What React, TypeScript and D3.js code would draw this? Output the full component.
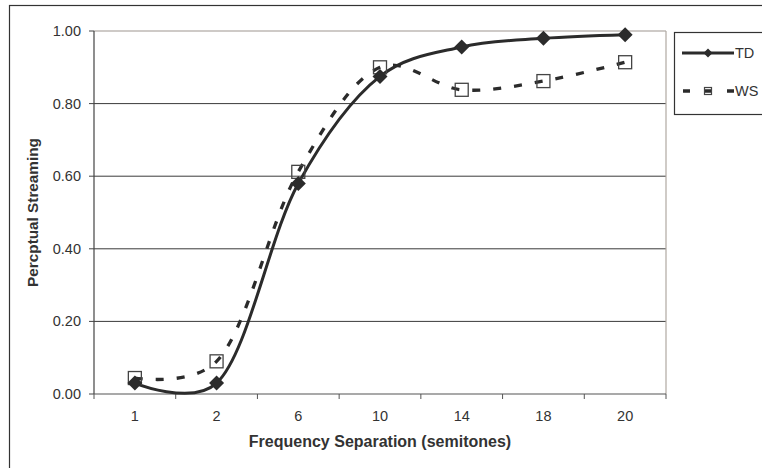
import React from "react";
import * as d3 from "d3";

const categories = ["1", "2", "6", "10", "14", "18", "20"];
const tdValues = [0.03, 0.03, 0.58, 0.875, 0.956, 0.98, 0.99];
const wsValues = [0.044, 0.09, 0.612, 0.9, 0.838, 0.862, 0.914];
const yTicks = [0, 0.2, 0.4, 0.6, 0.8, 1.0];

const W = 762;
const H = 468;
const M = { left: 94, right: 666, top: 31, bottom: 394 };
const FONT = "'Liberation Sans', Arial, sans-serif";
const INK = "#2b2b2b";

export default function App() {
  const x = d3.scaleBand<string>().domain(categories).range([M.left, M.right]).padding(0);
  const y = d3.scaleLinear().domain([0, 1]).range([M.bottom, M.top]);
  const cx = (c: string) => (x(c) as number) + x.bandwidth() / 2;

  const line = d3
    .line<number>()
    .x((_, i) => cx(categories[i]))
    .y((d) => y(d))
    .curve(d3.curveCatmullRom.alpha(0.25));

  const boundaries = categories.map((c) => x(c) as number).concat([M.right]);
  const diamond = (px: number, py: number, r: number) =>
    `M${px},${py - r}L${px + r},${py}L${px},${py + r}L${px - r},${py}Z`;

  return (
    <svg
      width={W}
      height={H}
      style={{ position: "absolute", left: 0, top: 0, background: "#fff" }}
      fontFamily={FONT}
    >
      {/* outer frame */}
      <rect x={9.5} y={5.5} width={800} height={600} fill="none" stroke="#333" strokeWidth={1.2} />

      {/* gridlines */}
      {yTicks.filter((t) => t > 0 && t < 1).map((t) => (
        <line key={t} x1={M.left} x2={M.right} y1={y(t)} y2={y(t)} stroke="#3a3a3a" strokeWidth={1} />
      ))}
      {/* plot border top/right */}
      <line x1={M.left} x2={M.right} y1={y(1)} y2={y(1)} stroke="#9e9690" strokeWidth={1.2} />
      <line x1={M.right} x2={M.right} y1={M.top} y2={M.bottom} stroke="#b0a8a2" strokeWidth={1.2} />

      {/* y axis */}
      <line x1={M.left} x2={M.left} y1={M.top} y2={M.bottom} stroke="#444" strokeWidth={1.2} />
      {yTicks.map((t) => (
        <g key={t}>
          <line x1={M.left - 5} x2={M.left} y1={y(t)} y2={y(t)} stroke="#444" strokeWidth={1} />
          <text x={81} y={y(t) + 5} textAnchor="end" fontSize={14.5} fill="#333">
            {t.toFixed(2)}
          </text>
        </g>
      ))}

      {/* x axis */}
      <line x1={M.left} x2={M.right} y1={M.bottom} y2={M.bottom} stroke="#555" strokeWidth={1.2} />
      {boundaries.map((b, i) => (
        <line key={i} x1={b} x2={b} y1={M.bottom} y2={M.bottom + 5} stroke="#555" strokeWidth={1} />
      ))}
      {categories.map((c) => (
        <text key={c} x={cx(c)} y={421} textAnchor="middle" fontSize={14.5} fill="#333">
          {c}
        </text>
      ))}

      {/* series */}
      <path d={line(wsValues) || ""} fill="none" stroke={INK} strokeWidth={3.3} strokeDasharray="8 13" />
      <path d={line(tdValues) || ""} fill="none" stroke={INK} strokeWidth={3} />
      {wsValues.map((v, i) => (
        <rect
          key={i}
          x={cx(categories[i]) - 6.5}
          y={y(v) - 6.5}
          width={13}
          height={13}
          fill="none"
          stroke="#444"
          strokeWidth={1.3}
        />
      ))}
      {tdValues.map((v, i) => (
        <path key={i} d={diamond(cx(categories[i]), y(v), 7.5)} fill={INK} />
      ))}

      {/* axis titles */}
      <text x={(M.left + M.right) / 2} y={447} textAnchor="middle" fontSize={16} fontWeight="bold" fill="#333">
        Frequency Separation (semitones)
      </text>
      <text
        transform={`translate(38, ${(M.top + M.bottom) / 2}) rotate(-90)`}
        textAnchor="middle"
        fontSize={15.3}
        fontWeight="bold"
        fill="#333"
      >
        Percptual Streaming
      </text>

      {/* legend */}
      <rect x={674.5} y={32.5} width={120} height={82} fill="#fff" stroke="#333" strokeWidth={1.2} />
      <line x1={682} x2={734} y1={53} y2={53} stroke={INK} strokeWidth={3} />
      <path d={diamond(708, 53, 4.5)} fill={INK} />
      <text x={735} y={58} fontSize={14.5} fill="#333">TD</text>
      <line x1={683} x2={734} y1={91} y2={91} stroke={INK} strokeWidth={3.3} strokeDasharray="7 15" />
      <rect x={704.5} y={87.5} width={7} height={7} fill="none" stroke="#444" strokeWidth={1.2} />
      <text x={735} y={96} fontSize={14.5} fill="#333">WS</text>
    </svg>
  );
}
